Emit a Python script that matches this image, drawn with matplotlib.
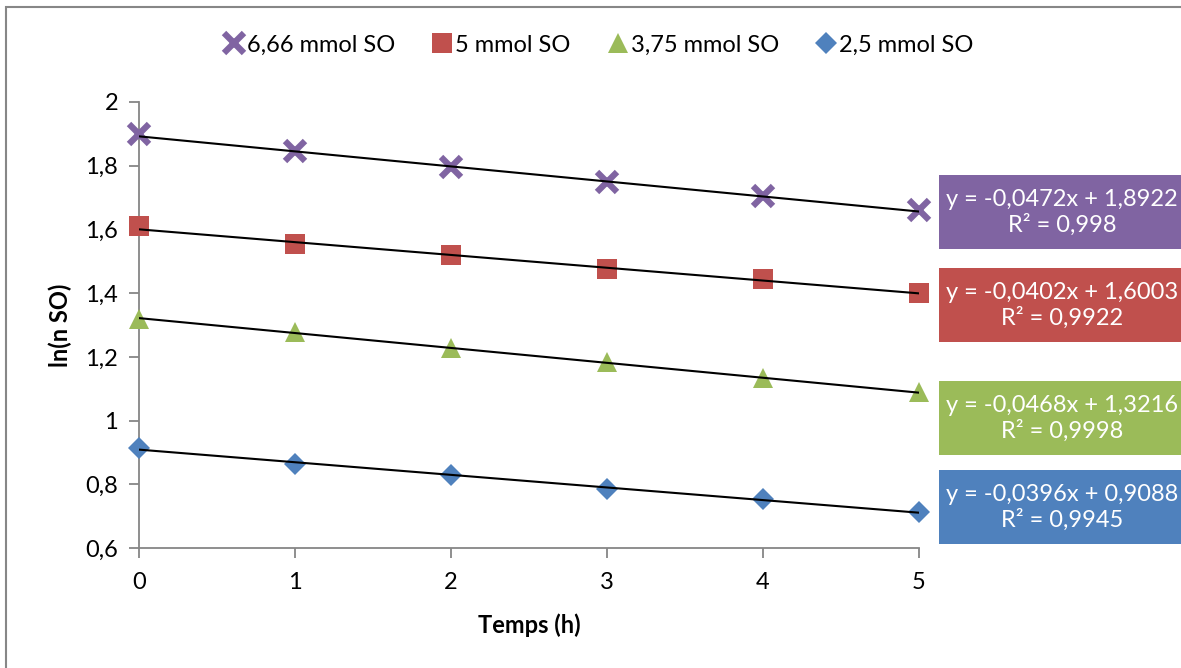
import matplotlib
matplotlib.use("Agg")
import matplotlib.pyplot as plt
from matplotlib.patches import Rectangle
import numpy as np

plt.rcParams['font.family'] = ['Lato', 'DejaVu Sans']

# data
temps = [0, 1, 2, 3, 4, 5]
labels = ["6,66 mmol SO", "5 mmol SO", "3,75 mmol SO", "2,5 mmol SO"]
y_666 = [1.900, 1.845, 1.795, 1.750, 1.705, 1.660]
y_5 = [1.610, 1.555, 1.520, 1.475, 1.445, 1.400]
y_375 = [1.320, 1.278, 1.228, 1.185, 1.135, 1.090]
y_25 = [0.915, 0.865, 0.830, 0.785, 0.755, 0.713]
slopes = [-0.0472, -0.0402, -0.0468, -0.0396]
intercepts = [1.8922, 1.6003, 1.3216, 0.9088]
r2 = ["0,998", "0,9922", "0,9998", "0,9945"]

colors = ["#8064A2", "#C0504D", "#9BBB59", "#4F81BD"]
markers = ["x", "s", "^", "D"]
msizes = [14, 14, 15, 11]

fig = plt.figure(figsize=(11.81, 6.68), dpi=100)
ax = fig.add_axes([139/1181, 1 - 548/668, 780/1181, 446/668])

series = [y_666, y_5, y_375, y_25]
for ys, lab, c, m, ms in zip(series, labels, colors, markers, msizes):
    if m == "x":
        ax.plot(temps, ys, linestyle="none", marker=m, ms=ms, mew=4.5,
                color=c, label=lab, zorder=3, clip_on=False)
    else:
        ax.plot(temps, ys, linestyle="none", marker=m, ms=ms, mew=0,
                color=c, label=lab, zorder=3, clip_on=False)

# trend lines
xs = np.array([temps[0], temps[-1]])
for a, b in zip(slopes, intercepts):
    ax.plot(xs, a * xs + b, color="black", lw=1.5, zorder=4)

ax.set_xlim(0, 5)
ax.set_ylim(0.6, 2.0)
ax.set_xticks(temps)
yt = np.arange(0.6, 2.01, 0.2)
ax.set_yticks(yt)
ax.set_yticklabels([("%g" % round(v, 1)).replace(".", ",") for v in yt])
for s in ["top", "right"]:
    ax.spines[s].set_visible(False)
for s in ["left", "bottom"]:
    ax.spines[s].set_color("#868686")
    ax.spines[s].set_linewidth(1.3)
ax.tick_params(axis="both", colors="#868686", labelcolor="black",
               labelsize=17, length=7, width=1.3)
ax.tick_params(axis="x", pad=10)
ax.tick_params(axis="y", pad=8)

fig.text(529/1181, 1 - 625/668, "Temps (h)", ha="center", va="center",
         fontsize=17, fontweight="bold")
fig.text(60/1181, 1 - 325/668, "ln(n SO)", ha="center", va="center",
         rotation=90, fontsize=17, fontweight="bold")

leg = fig.legend(loc="center", bbox_to_anchor=(598/1181, 1 - 45/668), ncol=4,
                 frameon=False, fontsize=17, handletextpad=0.05,
                 columnspacing=1.5, handlelength=1.0)

# equation boxes
box_tops = [175, 268, 381, 470]
for c, a, b, r, top in zip(colors, slopes, intercepts, r2, box_tops):
    fig.patches.append(Rectangle((939/1181, 1 - (top + 74)/668), 250/1181, 74/668,
                                 transform=fig.transFigure, facecolor=c,
                                 edgecolor="none", zorder=5))
    eq = "y = %sx + %s" % (("%.4f" % a).replace(".", ","), ("%.4f" % b).replace(".", ","))
    fig.text(1062/1181, 1 - (top + 37)/668, eq + "\nR² = " + r, ha="center",
             va="center", color="white", fontsize=17, linespacing=1.2, zorder=6)

# chart border
fig.patches.append(Rectangle((6/1181, -0.05), 1.1, 1 - 7/668 + 0.05,
                             transform=fig.transFigure, facecolor="none",
                             edgecolor="#878787", lw=1.5, zorder=0))

fig.savefig("out.png", dpi=100)
